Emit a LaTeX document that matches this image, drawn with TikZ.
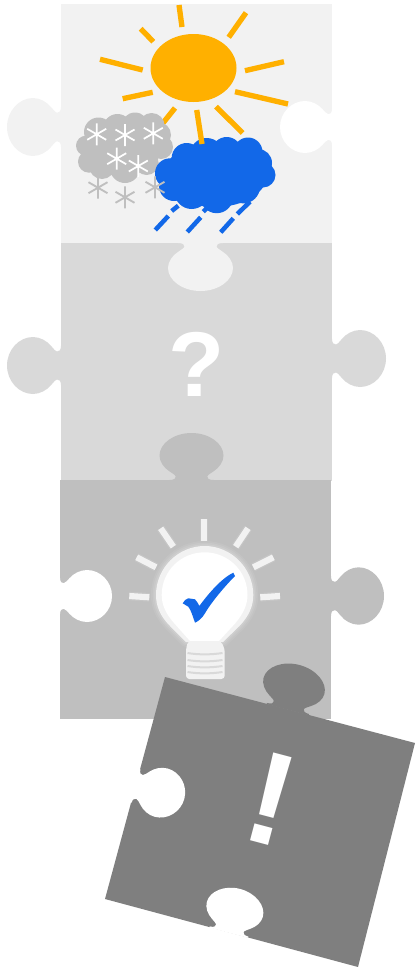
\documentclass[tikz,border=0pt]{standalone}
\usepackage{fontspec}
\setmainfont{Liberation Sans}
\definecolor{pa}{HTML}{F2F2F2}
\definecolor{pb}{HTML}{D9D9D9}
\definecolor{pc}{HTML}{BFBFBF}
\definecolor{pd}{HTML}{7F7F7F}
\definecolor{sun}{HTML}{FFB000}
\definecolor{rain}{HTML}{1268E8}
\newcommand{\jigtab}[6]{%
  \begin{scope}[shift={(#2,#3)},rotate=#4,xscale={#5/54},yscale={#6/29}]
    \fill[#1] (-1.5,-20) -- (0,-20) .. controls (0,-15.5) and (2,-14) .. (4,-14.3)
      .. controls (6,-14.6) and (8,-18) .. (10,-20)
      .. controls (14,-25) and (21,-29) .. (28,-29)
      .. controls (42,-29) and (54,-16) .. (54,0)
      .. controls (54,16) and (42,29) .. (28,29)
      .. controls (21,29) and (14,25) .. (10,20)
      .. controls (8,18) and (6,14.6) .. (4,14.3)
      .. controls (2,14) and (0,15.5) .. (0,20) -- (-1.5,20) -- cycle;
  \end{scope}}
\newcommand{\flake}[4]{%
  \begin{scope}[shift={(#2,#3)}]
    \draw[#1,line width=#4] (0,-11) -- (0,11) (-9.5,-5.5) -- (9.5,5.5) (-9.5,5.5) -- (9.5,-5.5);
  \end{scope}}
\tikzset{
  x=0.75pt,y=-0.75pt,
  sunray/.style={sun,line width=4pt},
  rainstroke/.style={rain,line width=3.4pt},
  bulbray/.style={pa,line width=4.6pt},
  thread/.style={pb,line width=1.5pt}
}
\begin{document}
\begin{tikzpicture}
\useasboundingbox (0,0) rectangle (415,967);
% piece 2
\fill[pb] (61,243) rectangle (332,480.5);
\jigtab{pb}{61}{365.5}{180}{54}{28.5}
\jigtab{pb}{332}{358.5}{0}{54}{28.5}
% piece 1
\fill[pa] (61,4) rectangle (332,243);
\jigtab{pa}{61}{127}{180}{54}{29}
\jigtab{pa}{200.5}{243}{-90}{48}{32.5}
% piece 3
\fill[pc] (60,480) rectangle (331,719);
\jigtab{pc}{191.5}{480}{90}{47}{32}
\jigtab{white}{60}{596}{0}{52}{26}
\jigtab{pc}{331}{596}{0}{53}{28.7}
% sun
\fill[sun] (193.5,68) ellipse [x radius=43,y radius=34];
\draw[sunray] (163,123) -- (175,108);
% grey cloud
\fill[pc] (124,148) ellipse [x radius=37,y radius=27];
\fill[pc] (98.5,132) circle (14.5) (117.5,128.5) circle (14.5) (135,126) circle (13.5)
  (151.7,126) circle (13) (158,135) circle (13) (161,147) circle (12)
  (86,145.7) circle (10) (89,161.7) circle (11) (102,166) circle (13)
  (125,168) circle (15) (146.7,163) circle (12);
\foreach \a/\b in {96.7/134.3,125/135,153.3/133.3,116.7/158.7,138.3/166}
  {\flake{white}{\a}{\b}{1.3pt}}
% blue cloud
\fill[rain] (215,175) ellipse [x radius=52,y radius=32];
\fill[rain] (186.7,158) circle (15) (206.7,155) circle (17) (226.7,152) circle (15)
  (248,152) circle (14.5) (258,163) circle (14) (263,175) circle (12.5)
  (170,173.3) circle (15) (174,186) circle (15) (191.7,191.7) circle (17.3)
  (216.7,196.7) circle (16.5) (243.3,186.7) circle (16.7);
\draw[rainstroke] (250,201.7) -- (237.3,214) (233.3,218.3) -- (220.7,232.3)
  (208.3,206.7) -- (203.3,211.7) (200.7,217.3) -- (187.3,232)
  (178.3,205.7) -- (171.7,211) (168.3,216) -- (155.3,230);
\foreach \a/\b in {98/187.7,125/197.3,155/187.3}
  {\flake{pc}{\a}{\b}{1.4pt}}
% sun rays
\draw[sunray] (182,27) -- (179,5);
\draw[sunray] (228.7,37.3) -- (246,12.7);
\draw[sunray] (245,70.7) -- (284,61.7);
\draw[sunray] (235,91.7) -- (288,104);
\draw[sunray] (216,106.7) -- (242.7,133);
\draw[sunray] (196.7,110) -- (202,144);
\draw[sunray] (152.7,92.3) -- (122.7,98.7);
\draw[sunray] (142.7,70) -- (100,59.3);
\draw[sunray] (153.3,41.7) -- (140.7,28.7);
% notch of piece 1
\jigtab{white}{332}{127}{180}{52}{26}
% question mark
\node[inner sep=0pt,text=white,font=\bfseries\fontsize{69}{69}\selectfont] (question) at (197,364.5) {?};
% bulb glow
\def\bulbpath{(186,642) -- (170,626) .. controls (160,616) and (156,606) .. (156,595)
  .. controls (156,568) and (178,546) .. (204.7,546) .. controls (231,546) and (253.3,568) .. (253.3,595)
  .. controls (253.3,606) and (249,616) .. (239.5,626) -- (223,642) -- cycle}
\draw[white,opacity=.07,line width=7.5pt,line join=round] \bulbpath;
\draw[white,opacity=.09,line width=5pt,line join=round] \bulbpath;
\draw[white,opacity=.12,line width=2.5pt,line join=round] \bulbpath;
\foreach \ax/\ay/\bx/\by in {204/519.3/204/540.7,160.7/528.3/173.3/546.7,248/528.3/235.7/546.7,136.7/557.3/156/567.3,273.3/557.3/253.3/567.3,129.3/596/149.3/597.3,280/596/260.3/597.3}{
  \draw[white,opacity=.10,line width=6.5pt] (\ax,\ay) -- (\bx,\by);
  \draw[bulbray] (\ax,\ay) -- (\bx,\by);
}
\fill[pa] \bulbpath;
\fill[white] (190,641) -- (174,623) .. controls (166,614) and (161.7,605) .. (161.7,595)
  .. controls (161.7,571) and (181,552.3) .. (204.7,552.3) .. controls (228,552.3) and (247.5,571) .. (247.5,595)
  .. controls (247.5,605) and (243,614) .. (235.5,623) -- (219,641) -- cycle;
% bulb base
\fill[pa,rounded corners=2.5pt] (188,641) -- (221,641) -- (224.7,649) -- (224.7,679) -- (186,679) -- (186,649) -- cycle;
\foreach \yy in {653,660,666,672}
  \draw[thread] (187.5,\yy) .. controls (198,\yy+1.8) and (211,\yy+1.8) .. (222.5,\yy);
% check mark
\fill[rain] (182.7,603.3) .. controls (184,601) and (186,598.5) .. (188.3,598.3)
  -- (195,599.3) .. controls (197,601) and (198,603.5) .. (199.3,606)
  .. controls (206,597) and (220,579) .. (233.3,572.7) -- (235,576)
  .. controls (227,584) and (212,601) .. (205,613.3) .. controls (202,618) and (199,621) .. (195,622.7)
  .. controls (193,617) and (191,610) .. (188.3,606.7) -- cycle;
% piece 4
\fill[pd] (165,677) -- (415,743) -- (358,967) -- (105,899) -- cycle;
\jigtab{pd}{288}{708.5}{75.2}{45}{31.5}
\jigtab{white}{136}{786}{-14.8}{50}{25}
\jigtab{white}{229}{931.5}{75.2}{44}{29}
\node[inner sep=0pt,text=white,rotate=-14.8,font=\bfseries\fontsize{99}{99}\selectfont] (exclaim) at (271,799) {!};
\end{tikzpicture}
\end{document}
